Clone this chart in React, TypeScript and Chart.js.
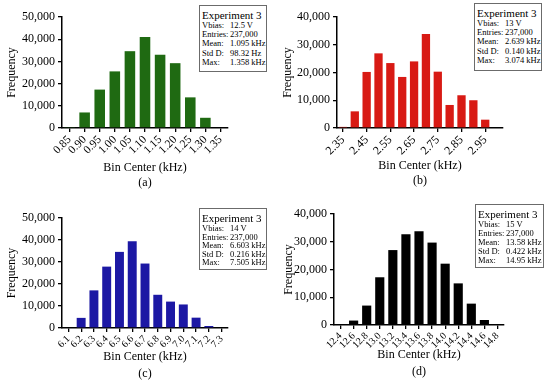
import React, { useEffect, useRef } from "react";
import { Chart, registerables } from "chart.js";

Chart.register(...registerables);

// ---------- data ----------
const binsA = ["0.85", "0.90", "0.95", "1.00", "1.05", "1.10", "1.15", "1.20", "1.25", "1.30", "1.35"];
const freqA = [400, 7000, 17300, 25500, 34600, 41000, 33000, 29200, 13800, 4600, 0];

const binsB = ["2.35", "2.40", "2.45", "2.50", "2.55", "2.60", "2.65", "2.70", "2.75", "2.80", "2.85", "2.90", "2.95", "3.00"];
const freqB = [400, 6000, 20200, 26900, 23400, 18400, 24000, 33900, 20300, 8300, 11800, 10000, 3000, 0];

const binsC = ["6.1", "6.2", "6.3", "6.4", "6.5", "6.6", "6.7", "6.8", "6.9", "7.0", "7.1", "7.2", "7.3"];
const freqC = [300, 4600, 17100, 27900, 34600, 39400, 29300, 15100, 12000, 10700, 4700, 900, 0];

const binsD = ["12.4", "12.6", "12.8", "13.0", "13.2", "13.4", "13.6", "13.8", "14.0", "14.2", "14.4", "14.6", "14.8"];
const freqD = [0, 1600, 7000, 17200, 27000, 32700, 33800, 29700, 22100, 15000, 7700, 1800, 0];

const statKeys = ["Vbias:", "Entries:", "Mean:", "Std D:", "Max:"];
const statsA = ["12.5 V", "237,000", "1.095 kHz", "98.32 Hz", "1.358 kHz"];
const statsB = ["13 V", "237,000", "2.639 kHz", "0.140 kHz", "3.074 kHz"];
const statsC = ["14 V", "237,000", "6.603 kHz", "0.216 kHz", "7.505 kHz"];
const statsD = ["15 V", "237,000", "13.58 kHz", "0.422 kHz", "14.95 kHz"];

const yMaxA = 50000;
const yMaxB = 40000;
const yMaxC = 50000;
const yMaxD = 40000;

// ---------- layout / style ----------
const FONT = "'Liberation Serif', 'Times New Roman', serif";

type PanelCfg = {
  labels: string[];
  values: number[];
  yMax: number;
  tag: string;
  color: string;
  labelEvery: number;
  xTickSize: number;
  xTitleLH: number;
  left: number;
  top: number;
  w: number;
  h: number;
  plotLeft: number;
  plotTop: number;
  plotRight: number;
  plotBottom: number;
  yTitlePad: number;
  xTitlePad: number;
  stats: string[];
  box: { x: number; y: number; w: number; h: number; row: number };
};

const panels: PanelCfg[] = [
  {
    labels: binsA, values: freqA, yMax: yMaxA, tag: "(a)", color: "#1f6a12", labelEvery: 1, xTickSize: 11.5, xTitleLH: 1.25,
    left: 0, top: 0, w: 275, h: 190, plotLeft: 62, plotTop: 17, plotRight: 228, plotBottom: 128,
    yTitlePad: 4.5, xTitlePad: 0, stats: statsA, box: { x: 199, y: 5, w: 68, h: 67, row: 9.2 },
  },
  {
    labels: binsB, values: freqB, yMax: yMaxB, tag: "(b)", color: "#d81a14", labelEvery: 2, xTickSize: 12, xTitleLH: 1.25,
    left: 275, top: 0, w: 275, h: 190, plotLeft: 62, plotTop: 17, plotRight: 228, plotBottom: 128,
    yTitlePad: 5, xTitlePad: 1.5, stats: statsB, box: { x: 474, y: 3, w: 68, h: 68, row: 9.2 },
  },
  {
    labels: binsC, values: freqC, yMax: yMaxC, tag: "(c)", color: "#1c18a4", labelEvery: 1, xTickSize: 10, xTitleLH: 1.4,
    left: 0, top: 190, w: 275, h: 191, plotLeft: 62, plotTop: 28, plotRight: 228, plotBottom: 138,
    yTitlePad: 4, xTitlePad: -1, stats: statsC, box: { x: 199, y: 208, w: 68, h: 62, row: 8.5 },
  },
  {
    labels: binsD, values: freqD, yMax: yMaxD, tag: "(d)", color: "#000000", labelEvery: 1, xTickSize: 10, xTitleLH: 1.4,
    left: 275, top: 190, w: 275, h: 191, plotLeft: 59, plotTop: 24, plotRight: 229, plotBottom: 135,
    yTitlePad: 6.5, xTitlePad: 0.5, stats: statsD, box: { x: 475, y: 204, w: 69, h: 64, row: 9 },
  },
];

function Histogram({ p }: { p: PanelCfg }) {
  const ref = useRef<HTMLCanvasElement>(null);
  useEffect(() => {
    const chart = new Chart(ref.current!, {
      type: "bar",
      data: {
        labels: p.labels,
        datasets: [
          {
            data: p.values,
            backgroundColor: p.color,
            borderWidth: 0,
            barPercentage: 0.7,
            categoryPercentage: 1,
          },
        ],
      },
      options: {
        animation: false,
        responsive: false,
        maintainAspectRatio: false,
        layout: { padding: { top: p.plotTop, right: p.w - p.plotRight, left: 0, bottom: 0 } },
        plugins: { legend: { display: false }, tooltip: { enabled: false } },
        scales: {
          x: {
            offset: true,
            grid: {
              offset: false,
              drawOnChartArea: false,
              drawTicks: true,
              tickLength: 4,
              lineWidth: 1.3,
              color: (ctx: any) => (ctx.index % p.labelEvery === 0 ? "#000" : "rgba(0,0,0,0)"),
            },
            border: { display: true, color: "#000", width: 1.5 },
            ticks: {
              autoSkip: false,
              minRotation: 45,
              maxRotation: 45,
              padding: 1,
              color: "#000",
              font: { family: FONT, size: p.xTickSize },
              callback: (_v: any, i: number) => (i % p.labelEvery === 0 ? p.labels[i] : ""),
            },
            title: {
              display: true,
              text: ["Bin Center (kHz)", p.tag],
              color: "#000",
              font: { family: FONT, size: 12, lineHeight: p.xTitleLH },
              padding: { top: 0, bottom: p.xTitlePad },
            },
            afterFit: (s: any) => {
              s.height = p.h - p.plotBottom;
            },
          },
          y: {
            min: 0,
            max: p.yMax,
            ticks: { stepSize: 10000, color: "#000", padding: 3, font: { family: FONT, size: 12 } },
            grid: { drawOnChartArea: false, drawTicks: true, tickLength: 4, color: "#000", lineWidth: 1.3 },
            border: { display: true, color: "#000", width: 1.5 },
            title: {
              display: true,
              text: "Frequency",
              color: "#000",
              font: { family: FONT, size: 12, lineHeight: 1.25 },
              padding: { top: p.yTitlePad, bottom: 0 },
            },
            afterFit: (s: any) => {
              s.width = p.plotLeft;
            },
          },
        },
      } as any,
    });
    return () => chart.destroy();
  }, []);
  return (
    <div style={{ position: "absolute", left: p.left, top: p.top, width: p.w, height: p.h }}>
      <canvas ref={ref} width={p.w} height={p.h} style={{ display: "block", width: p.w, height: p.h }} />
    </div>
  );
}

function StatBox({ p }: { p: PanelCfg }) {
  const b = p.box;
  return (
    <div
      style={{
        position: "absolute",
        left: b.x,
        top: b.y,
        width: b.w,
        height: b.h,
        boxSizing: "border-box",
        border: "1.5px solid #6b6b6b",
        background: "#fff",
        fontFamily: FONT,
        color: "#000",
        padding: "3px 0 0 2px",
        whiteSpace: "nowrap",
        overflow: "hidden",
      }}
    >
      <div style={{ fontSize: 11, lineHeight: "12px" }}>Experiment 3</div>
      {statKeys.map((k, i) => (
        <div key={k} style={{ display: "flex", fontSize: 8.5, lineHeight: b.row + "px" }}>
          <span style={{ width: 28, flex: "0 0 28px" }}>{k}</span>
          <span>{p.stats[i]}</span>
        </div>
      ))}
    </div>
  );
}

export default function App() {
  return (
    <div style={{ position: "absolute", left: 0, top: 0, width: 550, height: 381, background: "#fff" }}>
      {panels.map((p) => (
        <Histogram key={p.tag} p={p} />
      ))}
      {panels.map((p) => (
        <StatBox key={"s" + p.tag} p={p} />
      ))}
    </div>
  );
}
